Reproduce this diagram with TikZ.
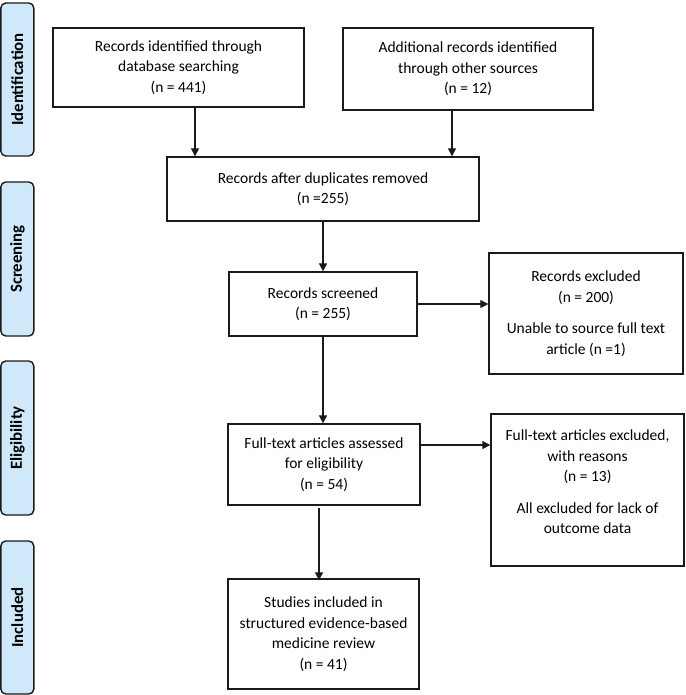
\documentclass[tikz,border=0pt]{standalone}
\usepackage{fontspec}
\setmainfont{Carlito}
\usetikzlibrary{arrows.meta}
\definecolor{tabblue}{HTML}{CFE9FB}
\definecolor{linegray}{HTML}{1A1A1A}
\tikzset{
  box/.style={draw=linegray, line width=1.4pt, fill=white, align=center, inner sep=0pt,
    font=\fontsize{15.5}{20.5}\selectfont},
  tab/.style={draw=linegray, line width=1.4pt, fill=tabblue, rounded corners=5pt,
    minimum width=33pt, inner sep=0pt},
  tabtext/.style={rotate=90, font=\fontsize{16.8}{20}\selectfont\bfseries},
  arr/.style={draw=linegray, line width=1.3pt, -{Triangle[length=8pt,width=8pt]}},
  txt/.style={align=center, inner sep=0pt, font=\fontsize{15.5}{20.5}\selectfont}
}
\begin{document}
\begin{tikzpicture}[x=1pt,y=-1pt]
\useasboundingbox (0,0) rectangle (685,695);
% side tabs
\node[tab, minimum height=153pt] (tid) at (17.3,79.5) {};
\node[tabtext] (tidt) at (tid.center) {Identification};
\node[tab, minimum height=154pt] (tsc) at (17.3,259) {};
\node[tabtext] (tsct) at (tsc.center) {Screening};
\node[tab, minimum height=154pt] (tel) at (17.3,438) {};
\node[tabtext] (telt) at (tel.center) {Eligibility};
\node[tab, minimum height=153pt] (tin) at (17.3,617.5) {};
\node[tabtext] (tint) at (tin.center) {Included};
% boxes
\node[box, minimum width=251pt, minimum height=79pt] (b1) at (178.5,67.5)
  {Records identified through\\database searching\\(n = 441)};
\node[box, minimum width=250pt, minimum height=82pt] (b2) at (468,69)
  {Additional records identified\\through other sources\\(n = 12)};
\node[box, minimum width=312pt, minimum height=64pt] (b3) at (323,189)
  {Records after duplicates removed\\(n =255)};
\node[box, minimum width=188pt, minimum height=64pt] (b4) at (323,304)
  {Records screened\\(n = 255)};
\node[box, minimum width=194pt, minimum height=121pt] (b5) at (586,313.5)
  {Records excluded\\(n = 200)\\[11pt]Unable to source full text\\article (n =1)};
\node[box, minimum width=192pt, minimum height=81pt] (b6) at (324,464.5)
  {Full-text articles assessed\\for eligibility\\(n = 54)};
\node[box, minimum width=193pt, minimum height=152pt] (b7) at (587.5,490) {};
\node[txt] (t7) at (587.5,482)
  {Full-text articles excluded,\\with reasons\\(n = 13)\\[11pt]All excluded for lack of\\outcome data};
\node[box, minimum width=191pt, minimum height=110pt] (b8) at (323.5,634)
  {Studies included in\\structured evidence-based\\medicine review\\(n = 41)};
% connectors
\draw[arr] ([xshift=16.5pt]b1.south) -- ([xshift=16.5pt]b1.south |- b3.north);
\draw[arr] ([xshift=-16pt]b2.south) -- ([xshift=-16pt]b2.south |- b3.north);
\draw[arr] (b3.south -| b4.north) -- (b4.north);
\draw[arr] (b4.east) -- (b4.east -| b5.west);
\draw[arr] (b4.south) -- (b4.south |- b6.north);
\draw[arr] ([yshift=19.5pt]b6.east) -- ([yshift=19.5pt]b6.east -| b7.west);
\draw[arr] ([xshift=-5pt,yshift=-2pt]b6.south) -- ([xshift=-5pt,yshift=-2pt]b6.south |- b8.north);
\end{tikzpicture}
\end{document}
